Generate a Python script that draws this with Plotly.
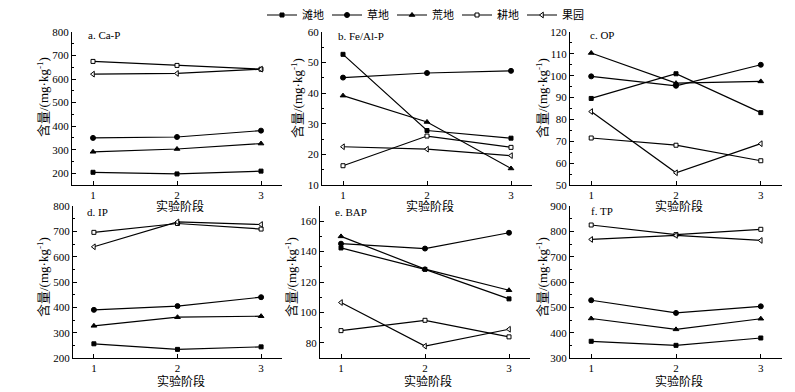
import plotly.graph_objects as go

# ---------------- data ----------------
stages = [1, 2, 3]
land_uses = ['滩地', '草地', '荒地', '耕地', '果园']
panel_titles = ['a. Ca-P', 'b. Fe/Al-P', 'c. OP', 'd. IP', 'e. BAP', 'f. TP']
x_title = '实验阶段'
y_title = '含量/(mg·kg<sup>-1</sup>)'

# each list: rows in order of land_uses, values at stages 1..3
ca_p = [[204, 197, 209], [350, 354, 381], [291, 303, 326], [675, 658, 642], [621, 624, 642]]
fe_al_p = [[52.7, 27.8, 25.3], [45.1, 46.6, 47.3], [39.2, 30.6, 15.4], [16.3, 26.0, 22.3], [22.5, 21.7, 19.6]]
op = [[89.6, 100.9, 83.1], [99.7, 95.4, 105.0], [110.4, 96.6, 97.4], [71.5, 68.2, 61.1], [83.6, 55.6, 68.9]]
ip = [[256, 234, 244], [390, 405, 440], [327, 361, 365], [696, 731, 709], [639, 737, 727]]
bap = [[142.4, 128.3, 108.9], [145.2, 142.0, 152.4], [150.0, 128.5, 114.6], [88.0, 94.8, 83.9], [106.5, 77.8, 88.9]]
tp = [[366, 350, 379], [528, 478, 504], [456, 413, 455], [825, 787, 808], [768, 784, 764]]

y_ranges = [[150, 800], [10, 60], [50, 120], [200, 800], [70, 170], [300, 900]]
y_dticks = [100, 10, 10, 100, 20, 100]

panels = [ca_p, fe_al_p, op, ip, bap, tp]

# ---------------- style ----------------
PAGE_OFF = 8                      # default body margin of the html page
W, H = 795 - PAGE_OFF, 392 - PAGE_OFF
symbols = ['square', 'circle', 'triangle-up', 'square', 'triangle-left']
fills = ['black', 'black', 'black', 'white', 'white']
sizes = [4, 5, 5, 4, 5]
FONT = 'Liberation Serif, Times New Roman, Noto Sans CJK SC, serif'

# pixel boxes in window coords: (left, right, top, bottom)
boxes = [(72, 282, 32, 185), (322, 532, 32, 185), (570, 782, 32, 185),
         (73, 282, 206, 358), (320, 530, 206, 358), (570, 782, 206, 358)]
label_pos = [(86, 35), (336, 36), (588, 35), (85, 212), (333, 212), (589, 211)]
ytitle_pos = [(43, 97), (297, 98), (542, 98), (43, 277), (291, 277), (542, 277)]
xtitle_y = [206, 206, 206, 381, 381, 381]


def px_x(v):
    return (v - PAGE_OFF) / W


def px_y(v):
    return (H - (v - PAGE_OFF)) / H


fig = go.Figure()
annotations = []
layout = {}

for p, data in enumerate(panels):
    xa = 'x' if p == 0 else f'x{p + 1}'
    ya = 'y' if p == 0 else f'y{p + 1}'
    for i, name in enumerate(land_uses):
        fig.add_trace(go.Scatter(
            x=stages, y=data[i], name=name, mode='lines+markers',
            xaxis=xa, yaxis=ya, showlegend=(p == 0), legendgroup=name,
            line=dict(color='black', width=1.2),
            marker=dict(symbol=symbols[i], size=sizes[i], color=fills[i],
                        line=dict(color='black', width=1)),
        ))
    l, r, t, b = boxes[p]
    kx = 'xaxis' if p == 0 else f'xaxis{p + 1}'
    ky = 'yaxis' if p == 0 else f'yaxis{p + 1}'
    layout[kx] = dict(
        domain=[px_x(l), px_x(r)], anchor=ya, range=[0.75, 3.25],
        tickvals=stages, ticks='inside', ticklen=4, tickcolor='black',
        showline=True, linecolor='black', linewidth=1, showgrid=False,
        zeroline=False, automargin=False,
        tickfont=dict(family=FONT, size=11, color='black'),
    )
    layout[ky] = dict(
        domain=[px_y(b), px_y(t)], anchor=xa, range=y_ranges[p],
        dtick=y_dticks[p], ticks='inside', ticklen=4, tickcolor='black',
        minor=dict(dtick=y_dticks[p] / 2, ticks='inside', ticklen=2, tickcolor='black'),
        showline=True, linecolor='black', linewidth=1, showgrid=False,
        zeroline=False, automargin=False,
        tickfont=dict(family=FONT, size=11, color='black'),
    )
    lx, ly = label_pos[p]
    annotations.append(dict(text=panel_titles[p], x=px_x(lx), y=px_y(ly), xref='paper', yref='paper',
                            xanchor='left', yanchor='middle', showarrow=False,
                            font=dict(family=FONT, size=11, color='black')))
    tx, ty = ytitle_pos[p]
    annotations.append(dict(text=y_title, x=px_x(tx), y=px_y(ty), xref='paper', yref='paper',
                            xanchor='center', yanchor='middle', showarrow=False, textangle=-90,
                            font=dict(family=FONT, size=13, color='black')))
    annotations.append(dict(text=x_title, x=px_x((l + r) / 2 + 3), y=px_y(xtitle_y[p]), xref='paper', yref='paper',
                            xanchor='center', yanchor='middle', showarrow=False,
                            font=dict(family=FONT, size=12, color='black')))

fig.update_layout(
    width=W, height=H, margin=dict(l=0, r=0, t=0, b=0, autoexpand=False),
    paper_bgcolor='white', plot_bgcolor='white',
    font=dict(family=FONT, size=11, color='black'),
    annotations=annotations,
    legend=dict(orientation='h', x=px_x(262), y=px_y(15), xref='container', yref='container',
                xanchor='left', yanchor='middle',
                font=dict(family=FONT, size=11, color='black'), itemwidth=30,
                entrywidth=20, entrywidthmode='pixels', bgcolor='rgba(0,0,0,0)',
                borderwidth=0),
    **layout,
)

fig.write_html('out.html')
